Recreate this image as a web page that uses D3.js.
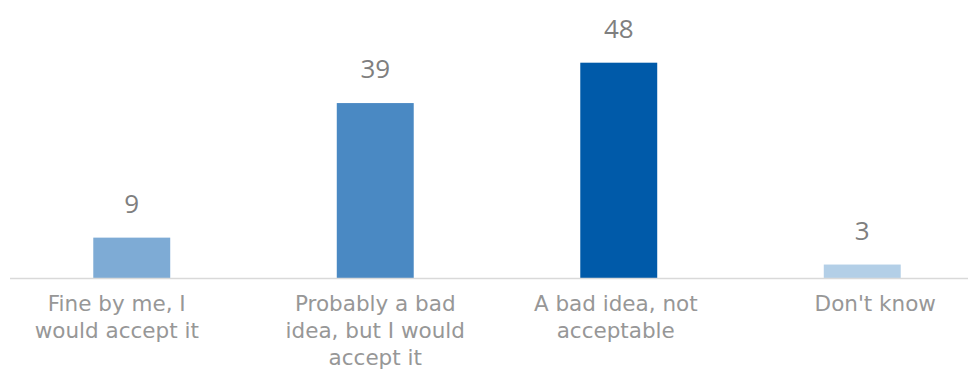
<!DOCTYPE html>
<html>
<head>
<meta charset="utf-8">
<script src="https://cdn.jsdelivr.net/npm/d3@7"></script>
<style>
  html, body { margin: 0; padding: 0; background: #fff; }
  svg { display: block; }
</style>
</head>
<body>
<svg id="chart" width="968" height="370"></svg>
<script>
// Survey answers and their shares (%)
const categories = [
  ["Fine by me, I", "would accept it"],
  ["Probably a bad", "idea, but I would", "accept it"],
  ["A bad idea, not", "acceptable"],
  ["Don't know"]
];
const values = [9, 39, 48, 3];
const barColors = ["#7eabd5", "#4a89c3", "#005aa9", "#b3cfe7"];

// Small horizontal nudges for the wrapped category labels
const labelNudge = [-15, 0, -3, 13];

const svg = d3.select("#chart");
const W = 968, H = 370;
const baseY = 278;

const x = d3.scaleBand()
  .domain(d3.range(values.length))
  .range([10, 984])
  .paddingInner(0.684)
  .paddingOuter(0.342);

const y = d3.scaleLinear()
  .domain([0, 48])
  .range([baseY, 62.7]);

// bars
svg.append("g")
  .selectAll("rect")
  .data(values)
  .join("rect")
  .attr("x", (d, i) => x(i))
  .attr("width", x.bandwidth())
  .attr("y", d => y(d))
  .attr("height", d => baseY - y(d))
  .attr("fill", (d, i) => barColors[i]);

// baseline
svg.append("line")
  .attr("x1", 10).attr("x2", W)
  .attr("y1", baseY + 0.5).attr("y2", baseY + 0.5)
  .attr("stroke", "#d9d9d9")
  .attr("stroke-width", 1.5);

// value labels
svg.append("g")
  .selectAll("text")
  .data(values)
  .join("text")
  .attr("x", (d, i) => x(i) + x.bandwidth() / 2)
  .attr("y", d => y(d) - 25)
  .attr("text-anchor", "middle")
  .attr("font-family", "'Open Sans', sans-serif")
  .attr("font-size", 26)
  .attr("fill", "#7f7f7f")
  .text(d => d);

// category labels
const cat = svg.append("g")
  .selectAll("text")
  .data(categories)
  .join("text")
  .attr("text-anchor", "middle")
  .attr("font-family", "'DejaVu Sans', sans-serif")
  .attr("font-size", 21.5)
  .attr("fill", "#979797");

cat.each(function(lines, i) {
  const cx = x(i) + x.bandwidth() / 2 + labelNudge[i];
  d3.select(this).selectAll("tspan")
    .data(lines)
    .join("tspan")
    .attr("x", cx)
    .attr("y", (d, j) => 311 + j * 27)
    .text(d => d);
});
</script>
</body>
</html>
